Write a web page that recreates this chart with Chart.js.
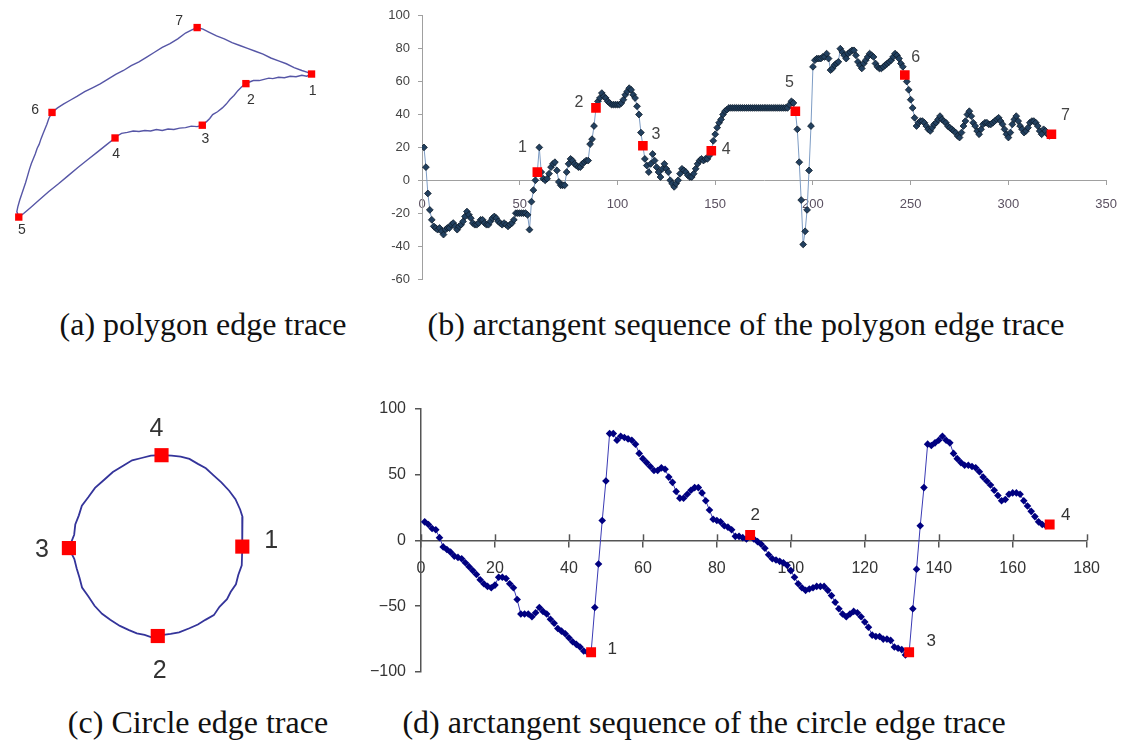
<!DOCTYPE html>
<html lang="en">

<head>
    <meta charset="UTF-8">
    <title>Edge trace and arctangent sequences</title>
    <script src="https://cdn.jsdelivr.net/npm/chart.js"></script>
    <style>
        body {
            margin: 0;
            background: #fff;
        }

        #page {
            position: relative;
            width: 1129px;
            height: 745px;
            overflow: hidden;
        }

        canvas {
            position: absolute;
        }

        /* figure captions */
        .caption {
            position: absolute;
            width: 800px;
            text-align: center;
            font-family: "Liberation Serif", "Times New Roman", serif;
            font-size: 32px;
            line-height: 36px;
            color: #111;
            white-space: nowrap;
        }
    </style>
</head>

<body>
    <div id="page">
        <canvas id="polyChart" width="340" height="260" style="left:0;top:0"></canvas>
        <canvas id="polyAtan" width="759" height="300" style="left:370px;top:0"></canvas>
        <canvas id="circleChart" width="330" height="310" style="left:0;top:390px"></canvas>
        <canvas id="circleAtan" width="753" height="310" style="left:360px;top:390px"></canvas>

        <div class="caption" style="left:-197px;top:306px">(a) polygon edge trace</div>
        <div class="caption" style="left:346px;top:306px">(b) arctangent sequence of the polygon edge trace</div>
        <div class="caption" style="left:-202px;top:704px">(c) Circle edge trace</div>
        <div class="caption" style="left:304px;top:704px">(d) arctangent sequence of the circle edge trace</div>
    </div>

    <script>
        // (a) polygon edge trace in page pixels (x right, y down)
        const polyTrace = [
            [316, 71.7], [311, 74], [306, 73], [300, 74.5], [294, 74], [288, 75.5], [282, 75], [276, 76.5], [272, 76], [266, 77.5],
            [262, 78.5], [256, 78.5], [252, 80], [248.3, 81.7],
            [244, 85], [240, 89], [236, 94], [232, 98], [228, 103], [224, 107], [219, 111], [214, 114], [211, 118], [208, 121], [203.3, 125],
            [198, 126.5], [192, 126], [186, 127.5], [180, 128], [174, 129.5], [168, 129], [162, 130.5], [156, 129.5], [150, 131], [144, 130.5],
            [138, 131.5], [132, 131], [126, 132.5], [120, 133.5], [116, 136], [113.3, 138.3],
            [105, 145], [95, 153], [85, 161], [75, 169], [65, 177.5], [55, 186], [45, 194], [35, 203], [26, 211], [19, 217], [14, 220.7],
            [12, 215], [13, 210], [15, 203], [17, 197], [19, 191], [21, 185], [23, 178], [25, 171], [27, 165], [29, 160], [31, 155],
            [33, 149], [35, 145], [37, 139], [39, 134], [41, 129], [43, 124], [45, 118], [48.3, 111.7],
            [54, 107], [60, 103], [67, 99], [74, 95], [82, 90], [90, 86], [98, 82], [106, 77], [114, 72], [122, 68], [130, 63],
            [138, 59], [146, 54], [154, 49], [162, 44], [170, 40], [178, 35], [186, 29], [192, 26], [198, 23.3],
            [204, 25], [210, 28], [218, 32], [226, 35], [234, 39], [242, 42], [250, 45], [258, 48], [266, 51], [274, 55],
            [282, 58], [290, 61], [298, 65], [306, 68], [312, 70], [316, 71.7]
        ];
        const polyCornerX = [316, 248.3, 203.3, 113.3, 14, 48.3, 198];
        const polyCornerY = [71.7, 81.7, 125, 138.3, 220.7, 111.7, 23.3];
        const polyCornerNames = ['1', '2', '3', '4', '5', '6', '7'];

        // (b) arctangent sequence of the polygon trace, one value per step, x = 1..322
        const polyAngles = [
            20, 8, -8, -18, -24, -28, -29, -30, -29, -31,
            -33, -30, -29, -29, -27, -26, -28, -30, -28, -27,
            -25, -22, -19, -21, -23, -26, -27, -27, -26, -24,
            -24, -26, -27, -27, -25, -23, -22, -23, -25, -26,
            -27, -26, -27, -28, -27, -26, -24, -20, -20, -20,
            -20, -20, -20, -21, -30, -13, -6, 0, 5, 20,
            5, 1, 0, 1, 4, 8, 10, 11, 6, -1,
            -3, -3, -3, 5, 10, 13, 12, 10, 9, 8,
            8, 10, 11, 12, 12, 22, 25, 33, 44, 48,
            50, 53, 51, 50, 48, 47, 46, 46, 46, 46,
            46, 47, 49, 52, 54, 56, 55, 52, 50, 45,
            40, 29, 21, 13, 9, 5, 10, 16, 12, 8,
            5, 2, 7, 10, 7, 5, 0, -2, -4, -2,
            0, 4, 7, 6, 5, 3, 2, 2, 4, 7,
            10, 12, 13, 12, 13, 13, 15, 18, 24, 28,
            32, 35, 37, 40, 42, 43, 44, 44, 44, 44,
            44, 44, 44, 44, 44, 44, 44, 44, 44, 44,
            44, 44, 44, 44, 44, 44, 44, 44, 44, 44,
            44, 44, 44, 44, 44, 44, 44, 46, 48, 47,
            42, 31, 11, -12, -39, -31, -18, 6, 33, 69,
            73, 74, 74, 74, 75, 75, 77, 74, 67, 68,
            70, 71, 72, 80, 78, 76, 74, 77, 78, 79,
            79, 76, 72, 70, 68, 71, 73, 75, 77, 76,
            75, 71, 69, 68, 68, 69, 70, 71, 72, 73,
            75, 77, 76, 74, 71, 69, 64, 60, 55, 49,
            44, 38, 33, 35, 36, 36, 35, 33, 31, 30,
            32, 34, 35, 37, 39, 37, 36, 35, 33, 32,
            31, 30, 29, 27, 26, 29, 33, 36, 40, 42,
            39, 35, 33, 30, 28, 31, 34, 35, 35, 34,
            34, 35, 36, 37, 38, 36, 34, 31, 28, 26,
            29, 34, 37, 39, 36, 33, 31, 29, 30, 32,
            35, 36, 36, 35, 33, 30, 28, 31, 30, 28,
            27, 28
        ];
        const polyMarkX = [59, 89, 113, 148, 191, 247, 322];
        const polyMarkY = [5, 44, 21, 18, 42, 64, 28];
        const polyXTicks = [0, 50, 100, 150, 200, 250, 300, 350];
        const polyYTicks = [-60, -40, -20, 0, 20, 40, 60, 80, 100];

        // (c) circle edge trace in page pixels
        const circleTrace = [
            [247.3, 546.7], [246.7, 566.7], [243, 577], [240.5, 587], [235, 595], [231, 603], [223, 611], [217, 620], [208, 625],
            [200, 630], [191, 634], [180, 638.3], [171, 640], [163, 641], [157.3, 642.3],
            [150, 643.5], [143.3, 641], [135, 639.5], [126.7, 636], [117, 631.5], [106.7, 625], [98, 618.5], [90, 610], [83.5, 600],
            [76.7, 590.5], [74, 580], [71, 570], [68.5, 560], [62.7, 548.3],
            [68.3, 534], [69.5, 523], [73.3, 513.3], [76.5, 503], [83.3, 494], [90.5, 484], [100, 475.5], [109.5, 467], [120, 460.5],
            [130, 454.5], [140, 452], [150, 449.5], [161.3, 449],
            [172, 449.5], [181.7, 450.5], [191, 453], [200, 458.3], [208.5, 463], [216.7, 470.5], [225, 478], [233.3, 487],
            [240, 496], [245, 507], [247.5, 515], [247, 523.3], [247.3, 535], [247.3, 546.7]
        ];
        const circleMarkX = [247.3, 157.3, 62.7, 161.3];
        const circleMarkY = [546.7, 642.3, 548.3, 449];
        const circleMarkNames = ['1', '2', '3', '4'];

        // (d) arctangent sequence of the circle trace, x = 1..170
        const circleAngles = [
            14, 12, 9, 8, 2, -5, -7, -9, -12, -13,
            -14, -17, -20, -23, -26, -30, -33, -35, -36, -34,
            -28, -28, -29, -33, -36, -45, -56, -56, -56, -58,
            -55, -51, -54, -56, -60, -63, -67, -69, -71, -74,
            -77, -79, -81, -84, -85, -85, -51, -18, 15, 45,
            81, 81, 76, 79, 78, 77, 76, 73, 66, 62,
            59, 56, 53, 53, 55, 54, 48, 44, 37, 32,
            32, 35, 38, 40, 40, 36, 30, 23, 16, 15,
            14, 11, 10, 8, 3, 3, 2, 1, 4, 1,
            -1, -3, -6, -11, -14, -15, -16, -17, -19, -23,
            -28, -33, -36, -38, -37, -36, -35, -35, -35, -38,
            -42, -47, -52, -56, -58, -56, -54, -55, -58, -62,
            -66, -72, -73, -73, -75, -75, -76, -81, -82, -83,
            -87, -85, -52, -22, 11, 40, 73, 72, 74, 76,
            79, 76, 74, 66, 62, 59, 57, 57, 56, 55,
            52, 48, 45, 42, 38, 34, 30, 31, 35, 36,
            36, 35, 30, 26, 22, 18, 14, 12, 11, 12
        ];
        const circleMarkSeqX = [46, 89, 132, 170];
        const circleMarkSeqY = [-85, 4, -85, 12];

        const toPoints = (xs, ys) => xs.map((x, i) => ({ x: x, y: ys[i] }));
        const pairsToPoints = pairs => pairs.map(p => ({ x: p[0], y: p[1] }));
        const seqPoints = ys => ys.map((y, i) => ({ x: i + 1, y: y }));

        // writes the corner numbers next to the red markers (dataset 0)
        function markLabels(names, offsets, font, color) {
            return {
                id: 'markLabels',
                afterDatasetsDraw(chart) {
                    const meta = chart.getDatasetMeta(0);
                    const ctx = chart.ctx;
                    ctx.save();
                    ctx.font = font;
                    ctx.fillStyle = color;
                    ctx.textAlign = 'center';
                    ctx.textBaseline = 'middle';
                    meta.data.forEach((pt, i) => {
                        ctx.fillText(names[i], pt.x + offsets[i][0], pt.y + offsets[i][1]);
                    });
                    ctx.restore();
                }
            };
        }

        // short tick marks above the x axis, so the ticks cross the axis line
        const crossTicks = {
            id: 'crossTicks',
            afterDraw(chart) {
                const xs = chart.scales.x;
                const y0 = chart.scales.y.getPixelForValue(0);
                const ctx = chart.ctx;
                ctx.save();
                ctx.strokeStyle = '#555';
                ctx.lineWidth = 1.5;
                xs.ticks.forEach(t => {
                    const px = Math.round(xs.getPixelForValue(t.value)) + 0.5;
                    ctx.beginPath();
                    ctx.moveTo(px, y0 - 6);
                    ctx.lineTo(px, y0);
                    ctx.stroke();
                });
                ctx.restore();
            }
        };

        const baseOptions = {
            responsive: false,
            animation: false,
            events: [],
            plugins: { legend: { display: false }, tooltip: { enabled: false } }
        };

        function traceChart(canvasId, trace, markX, markY, names, offsets, font, ranges, lineColor, lineWidth, markRadius) {
            new Chart(document.getElementById(canvasId), {
                type: 'scatter',
                data: {
                    datasets: [{
                        data: toPoints(markX, markY),
                        pointStyle: 'rect',
                        pointRadius: markRadius,
                        backgroundColor: '#ff0000',
                        borderColor: '#ff0000',
                        borderWidth: 0,
                        order: 0,
                        clip: false
                    }, {
                        data: pairsToPoints(trace),
                        showLine: true,
                        borderColor: lineColor,
                        borderWidth: lineWidth,
                        pointRadius: 0,
                        order: 1,
                        clip: false
                    }]
                },
                options: Object.assign({}, baseOptions, {
                    layout: { padding: 0 },
                    scales: {
                        x: { type: 'linear', display: false, min: ranges[0], max: ranges[1] },
                        y: { type: 'linear', display: false, min: ranges[2], max: ranges[3], reverse: true }
                    }
                }),
                plugins: [markLabels(names, offsets, font, '#333')]
            });
        }

        traceChart('polyChart', polyTrace, polyCornerX, polyCornerY, polyCornerNames,
            [[1, 17], [5, 17], [3, 14], [1, 16], [3, 13], [-17, -2], [-18, -6]],
            '14px "Liberation Sans", Arial, sans-serif', [0, 340, 0, 260], '#5656a6', 1.4, 5.2);

        traceChart('circleChart', circleTrace, circleMarkX, circleMarkY, circleMarkNames,
            [[29, -5], [2, 35], [-27, 2], [-5, -26]],
            '25px "Liberation Sans", Arial, sans-serif', [0, 330, 390, 700], '#34349a', 1.8, 10);

        // (b)
        new Chart(document.getElementById('polyAtan'), {
            type: 'scatter',
            data: {
                datasets: [{
                    data: toPoints(polyMarkX, polyMarkY),
                    pointStyle: 'rect',
                    pointRadius: 6.8,
                    backgroundColor: '#ff0000',
                    borderWidth: 0,
                    order: 0
                }, {
                    data: seqPoints(polyAngles),
                    showLine: true,
                    borderColor: '#7d9cc4',
                    borderWidth: 1,
                    pointStyle: 'rectRot',
                    pointRadius: 3.4,
                    pointBackgroundColor: '#22405f',
                    pointBorderColor: '#0e1c2b',
                    pointBorderWidth: 0.8,
                    order: 1
                }]
            },
            options: Object.assign({}, baseOptions, {
                layout: { padding: { top: 11, right: 5, bottom: 21, left: 0 } },
                scales: {
                    x: {
                        type: 'linear', min: 0, max: 350, position: { y: 0 },
                        border: { color: '#a0a0a0', width: 1 },
                        grid: { drawOnChartArea: false, tickLength: 4, color: '#a0a0a0' },
                        afterBuildTicks: s => { s.ticks = polyXTicks.map(v => ({ value: v })); },
                        ticks: { autoSkip: false, maxRotation: 0, padding: 12, color: '#5a5060', font: { family: 'Liberation Sans', size: 13 } }
                    },
                    y: {
                        type: 'linear', min: -60, max: 100, position: 'left',
                        afterFit: s => { s.width = 52; },
                        border: { color: '#a0a0a0', width: 1 },
                        grid: { drawOnChartArea: false, tickLength: 4, color: '#a0a0a0' },
                        afterBuildTicks: s => { s.ticks = polyYTicks.map(v => ({ value: v })); },
                        ticks: { padding: 8, color: '#444', font: { family: 'Liberation Sans', size: 13 } }
                    }
                }
            }),
            plugins: [markLabels(polyCornerNames,
                [[-15, -24], [-17, -5], [13, -11], [15, -1], [-6, -29], [11, -17], [14, -19]],
                '16px "Liberation Sans", Arial, sans-serif', '#444')]
        });

        // (d)
        new Chart(document.getElementById('circleAtan'), {
            type: 'scatter',
            data: {
                datasets: [{
                    data: toPoints(circleMarkSeqX, circleMarkSeqY),
                    pointStyle: 'rect',
                    pointRadius: 7,
                    backgroundColor: '#ff0000',
                    borderWidth: 0,
                    order: 0
                }, {
                    data: seqPoints(circleAngles),
                    showLine: true,
                    borderColor: '#3a3ab4',
                    borderWidth: 1,
                    pointStyle: 'rectRot',
                    pointRadius: 3.8,
                    pointBackgroundColor: '#000080',
                    pointBorderColor: '#000080',
                    pointBorderWidth: 0,
                    order: 1
                }]
            },
            options: Object.assign({}, baseOptions, {
                layout: { padding: { top: 16, right: 25, bottom: 28, left: 0 } },
                scales: {
                    x: {
                        type: 'linear', min: 0, max: 180, position: { y: 0 },
                        border: { color: '#555', width: 1.5 },
                        grid: { drawOnChartArea: false, tickLength: 6, color: '#555', lineWidth: 1.5 },
                        ticks: { stepSize: 20, autoSkip: false, maxRotation: 0, padding: 13, color: '#333', font: { family: 'Liberation Sans', size: 16 } }
                    },
                    y: {
                        type: 'linear', min: -100, max: 100, position: 'left',
                        afterFit: s => { s.width = 61; },
                        border: { color: '#555', width: 1.5 },
                        grid: { drawOnChartArea: false, tickLength: 6, color: '#555', lineWidth: 1.5 },
                        ticks: {
                            stepSize: 50, padding: 9, color: '#333', font: { family: 'Liberation Sans', size: 16 },
                            callback: v => (v < 0 ? '\u2212' + Math.abs(v) : String(v))
                        }
                    }
                }
            }),
            plugins: [crossTicks, markLabels(circleMarkNames,
                [[21, -3], [5, -20], [22, -11], [16, -9]],
                '17px "Liberation Sans", Arial, sans-serif', '#333')]
        });
    </script>
</body>

</html>
